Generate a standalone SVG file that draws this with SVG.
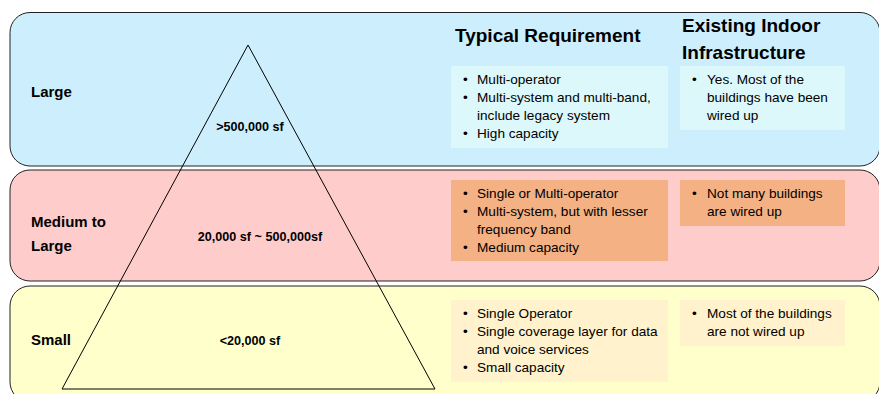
<svg xmlns="http://www.w3.org/2000/svg" width="879" height="394" viewBox="0 0 879 394">
<style>
.band{stroke:#222;stroke-width:1}
.lbl{font-family:"Liberation Sans",Arial,sans-serif;font-weight:bold;font-size:15px;fill:#000}
.sz{font-family:"Liberation Sans",Arial,sans-serif;font-weight:bold;font-size:12.6px;fill:#000}
.hdr{font-family:"Liberation Sans",Arial,sans-serif;font-weight:bold;font-size:19px;fill:#000}
.txt{font-family:"Liberation Sans",Arial,sans-serif;font-size:13.6px;fill:#000}
</style>
<rect width="879" height="394" fill="#fff"/>
<g id="band-large">
<rect class="band" x="10" y="12.5" width="870" height="153.5" rx="20" fill="#cdeffd"/>
<text class="lbl" x="31" y="97">Large</text>
</g>
<g id="band-medium">
<rect class="band" x="10" y="170" width="870" height="111" rx="20" fill="#ffcccc"/>
<text class="lbl" x="31" y="227">Medium to</text>
<text class="lbl" x="31" y="251">Large</text>
</g>
<g id="band-small">
<rect class="band" x="10" y="286" width="870" height="116" rx="20" fill="#ffffcc"/>
<text class="lbl" x="31" y="345">Small</text>
</g>
<g id="pyramid">
<polygon points="248,45 435,389 62,389" fill="none" stroke="#000" stroke-width="1"/>
<text class="sz" x="250" y="131" text-anchor="middle">&gt;500,000 sf</text>
<text class="sz" x="260" y="241" text-anchor="middle">20,000 sf ~ 500,000sf</text>
<text class="sz" x="250" y="345" text-anchor="middle">&lt;20,000 sf</text>
</g>
<g id="headers">
<text class="hdr" x="455" y="42">Typical Requirement</text>
<text class="hdr" x="682" y="32">Existing Indoor</text>
<text class="hdr" x="682" y="59">Infrastructure</text>
</g>
<g id="req-large">
<rect x="451" y="66" width="217" height="82" fill="#dcf8fb"/>
<text class="txt"><tspan x="463" y="84">•</tspan><tspan x="477" y="84">Multi-operator</tspan><tspan x="463" y="102">•</tspan><tspan x="477" y="102">Multi-system and multi-band,</tspan><tspan x="477" y="120">include legacy system</tspan><tspan x="463" y="138">•</tspan><tspan x="477" y="138">High capacity</tspan></text>
</g>
<g id="infra-large">
<rect x="680" y="66" width="165" height="64" fill="#dcf8fb"/>
<text class="txt"><tspan x="692" y="84">•</tspan><tspan x="707" y="84">Yes. Most of the</tspan><tspan x="707" y="102">buildings have been</tspan><tspan x="707" y="120">wired up</tspan></text>
</g>
<g id="req-medium">
<rect x="451" y="180" width="217" height="81" fill="#f4b183"/>
<text class="txt"><tspan x="463" y="198">•</tspan><tspan x="477" y="198">Single or Multi-operator</tspan><tspan x="463" y="216">•</tspan><tspan x="477" y="216">Multi-system, but with lesser</tspan><tspan x="477" y="234">frequency band</tspan><tspan x="463" y="252">•</tspan><tspan x="477" y="252">Medium capacity</tspan></text>
</g>
<g id="infra-medium">
<rect x="680" y="180" width="165" height="46" fill="#f4b183"/>
<text class="txt"><tspan x="692" y="198">•</tspan><tspan x="707" y="198">Not many buildings</tspan><tspan x="707" y="216">are wired up</tspan></text>
</g>
<g id="req-small">
<rect x="451" y="300" width="217" height="82" fill="#fff2cc"/>
<text class="txt"><tspan x="463" y="318">•</tspan><tspan x="477" y="318">Single Operator</tspan><tspan x="463" y="336">•</tspan><tspan x="477" y="336">Single coverage layer for data</tspan><tspan x="477" y="354">and voice services</tspan><tspan x="463" y="372">•</tspan><tspan x="477" y="372">Small capacity</tspan></text>
</g>
<g id="infra-small">
<rect x="680" y="300" width="165" height="46" fill="#fff2cc"/>
<text class="txt"><tspan x="692" y="318">•</tspan><tspan x="707" y="318">Most of the buildings</tspan><tspan x="707" y="336">are not wired up</tspan></text>
</g>
<g id="connectors"/>
</svg>
